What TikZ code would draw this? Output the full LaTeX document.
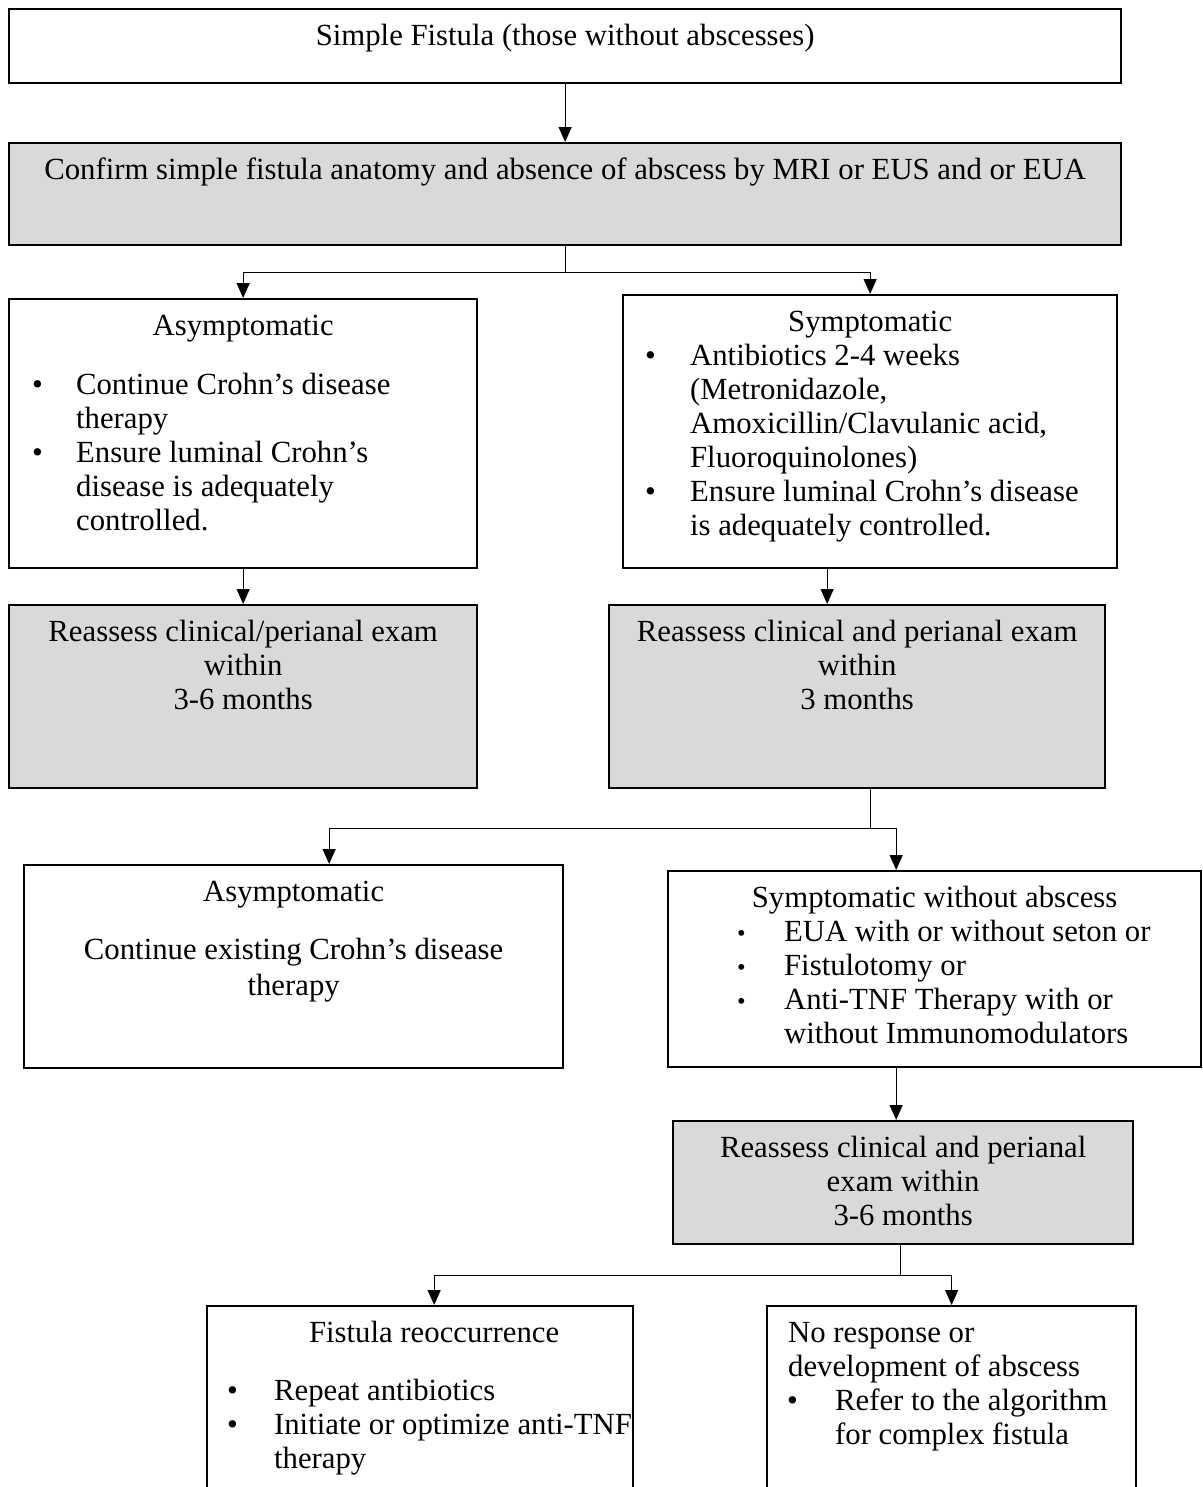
\documentclass[tikz,border=0pt]{standalone}
\usepackage{fontspec}
\setmainfont{Liberation Serif}
\usetikzlibrary{arrows.meta,positioning}
\definecolor{boxgray}{HTML}{D9D9D9}
\newlength\px
\setlength\px{0.02cm}
\newcommand{\boxtext}[4]{\parbox[t][#2\px][t]{#1\px}{#3\vspace*{12.5\px}\strut#4}}
\newcommand{\bitem}[4][\textbullet]{\par\hangindent=\dimexpr#2\px+#3\px\relax\hangafter=1\hspace*{#2\px}\makebox[#3\px][l]{#1}#4}
\newcommand{\smallbul}{{\fontsize{14pt}{14pt}\selectfont\textbullet}}
\tikzset{every node/.style={font=\fontsize{17.5pt}{19.35pt}\selectfont},
  plain/.style={draw, line width=1.3pt, inner sep=0pt, anchor=north west},
  shaded/.style={plain, fill=boxgray},
  arr/.style={-{Triangle[length=0.3cm,width=0.26cm]}, line width=0.7pt}}
\begin{document}
\begin{tikzpicture}[x=0.02cm, y=-0.02cm]
	\useasboundingbox (0,0) rectangle (1203,1487);
	\clip (0,0) rectangle (1203,1487);

	\node[plain]  (simple)  at (8,8)     {\boxtext{1112}{74}{\centering}{Simple Fistula (those without abscesses)}};
	\node[shaded] (confirm) at (8,142)   {\boxtext{1112}{102}{\centering}{Confirm simple fistula anatomy and absence of abscess by MRI or EUS and or EUA}};
	\node[plain]  (asymA)   at (8,298)   {\boxtext{468}{269}{\raggedright}{\makebox[468\px]{Asymptomatic}\par\vspace{25\px}%
		\bitem{23}{44}{Continue Crohn’s disease\newline therapy}%
		\bitem{23}{44}{Ensure luminal Crohn’s\newline disease is adequately\newline controlled.}}};
	\node[plain]  (sympA)   at (622,294) {\boxtext{494}{273}{\raggedright}{\makebox[494\px]{Symptomatic}%
		\bitem{22}{45}{Antibiotics 2-4 weeks\newline (Metronidazole,\newline Amoxicillin/Clavulanic acid,\newline Fluoroquinolones)}%
		\bitem{22}{45}{Ensure luminal Crohn’s disease\newline is adequately controlled.}}};
	\node[shaded] (reassA)  at (8,604)   {\boxtext{468}{183}{\centering}{Reassess clinical/perianal exam\\within\\3-6 months}};
	\node[shaded] (reassB)  at (608,604) {\boxtext{496}{183}{\centering}{Reassess clinical and perianal exam\\within\\3 months}};
	\node[plain]  (asymB)   at (23,864)  {\boxtext{539}{203}{\centering}{Asymptomatic\\[24\px]Continue existing Crohn’s disease\\[2\px]therapy}};
	\node[plain]  (sympB)   at (667,870) {\boxtext{533}{196}{\raggedright}{\makebox[533\px]{Symptomatic without abscess}%
		\bitem[\smallbul]{69}{47}{EUA with or without seton or}%
		\bitem[\smallbul]{69}{47}{Fistulotomy or}%
		\bitem[\smallbul]{69}{47}{Anti-TNF Therapy with or\newline without Immunomodulators}}};
	\node[shaded] (reassC)  at (672,1120) {\boxtext{460}{123}{\centering}{Reassess clinical and perianal\\exam within\\3-6 months}};
	\node[plain]  (fistula) at (206,1305) {\boxtext{426}{220}{\raggedright}{\makebox[426\px]{\hspace{28\px}Fistula reoccurrence}\par\vspace{24\px}%
		\bitem{20}{47}{Repeat antibiotics}%
		\bitem{20}{47}{Initiate or optimize anti-TNF\newline therapy}}};
	\node[plain]  (noresp)  at (766,1305) {\boxtext{369}{220}{\raggedright}{\hspace*{21\px}No response or\newline\hspace*{21\px}development of abscess%
		\bitem{20}{48}{Refer to the algorithm\newline for complex fistula}}};

	\draw[arr] (simple.south) -- (confirm.north);
	\draw[arr] (confirm.south) -- ++(0,26) -| (asymA.north);
	\draw[arr] (confirm.south) -- ++(0,26) -| (sympA.north);
	\draw[arr] (asymA.south) -- (reassA.north);
	\draw[arr] ([xshift=-0.86cm]sympA.south) -- ([xshift=-0.86cm]sympA.south |- reassB.north);
	\draw[arr] ([xshift=0.26cm]reassB.south) -- ++(0,39) -| ([xshift=0.71cm]asymB.north);
	\draw[arr] ([xshift=0.26cm]reassB.south) -- ++(0,39) -| ([xshift=-0.77cm]sympB.north);
	\draw[arr] ([xshift=-0.77cm]sympB.south) -- ([xshift=-0.77cm]sympB.south |- reassC.north);
	\draw[arr] ([xshift=-0.06cm]reassC.south) -- ++(0,30) -| ([xshift=0.28cm]fistula.north);
	\draw[arr] ([xshift=-0.06cm]reassC.south) -- ++(0,30) -| (noresp.north);
\end{tikzpicture}
\end{document}
